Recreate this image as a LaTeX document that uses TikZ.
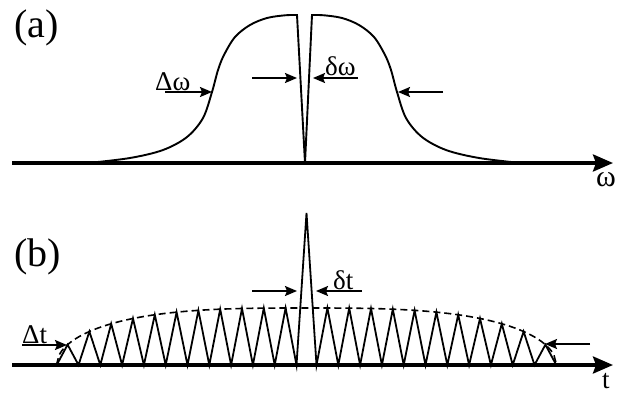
\documentclass[tikz,border=0pt]{standalone}
\usepackage{fontspec}
\setmainfont{Liberation Serif}
\usetikzlibrary{arrows.meta}
\begin{document}
\begin{tikzpicture}[x=1pt,y=-1pt,
 axis/.style={line width=3.5pt,-{Stealth[length=20pt,width=17pt,inset=3pt]}},
 marker/.style={line width=1.8pt,-{Stealth[length=12pt,width=10pt,inset=2pt]}},
 curve/.style={line width=1.9pt,line join=miter},
 teeth/.style={line width=1.8pt,line join=miter},
 envel/.style={line width=1.6pt,dash pattern=on 7pt off 4pt},
 big/.style={font=\fontsize{40}{44}\selectfont,inner sep=0pt,anchor=base west},
 lab/.style={font=\fontsize{27}{29}\selectfont,inner sep=0pt,anchor=base west},
 axlab/.style={font=\fontsize{27}{29}\selectfont,inner sep=0pt},
]
\useasboundingbox (0,0) rectangle (618,394);
\def\zc{306.5}
\def\zs{21.8}
% ---------- panel (a) ----------
\node[big] (la) at (14,37) {(a)};
\coordinate (axA0) at (12,163);
\coordinate (axA1) at (613,163);
\draw[axis] (axA0) -- (axA1);
\node[axlab,anchor=base east,font=\fontsize{30}{32}\selectfont] (lw) at (616,186) {ω};
\draw[curve] plot[smooth,tension=0.55] coordinates {(88,163) (130,158) (163,150) (187,137) (203,118) (212,92) (218,70) (224,55) (235,37) (250,25) (267,18) (285,15.3) (297,15)}
  -- (305,163) -- (312,15)
  -- plot[smooth,tension=0.55] coordinates {(312,15) (324,15.3) (342,18) (359,25) (374,37) (385,55) (391,70) (397,92) (406,118) (422,137) (446,150) (479,158) (521,163)};
\coordinate (DwLa) at (165,92); \coordinate (DwLb) at (212,92);
\coordinate (DwRa) at (443,92); \coordinate (DwRb) at (398,92);
\coordinate (dwLa) at (252,78); \coordinate (dwLb) at (297,78);
\coordinate (dwRa) at (358,78); \coordinate (dwRb) at (313,78);
\draw[marker] (DwLa) -- (DwLb);
\draw[marker] (DwRa) -- (DwRb);
\draw[marker] (dwLa) -- (dwLb);
\draw[marker] (dwRa) -- (dwRb);
\node[lab] (lDw) at (155,90) {Δω};
\node[lab] (ldw) at (325,75) {δω};
% ---------- panel (b) ----------
\node[big] (lb) at (14,266) {(b)};
\coordinate (axB0) at (12,365);
\coordinate (axB1) at (613,365);
\draw[envel] plot[domain=-250:250,samples=201] ({\zc+\x},{365-57*sqrt(max(0,1-abs(\x/250)^3))});
\draw[teeth] ({\zc-249.8},365)
  \foreach \k in {10,9,...,0}{
    -- ({\zc-(10+\zs*(\k+0.5))},{365-57*sqrt(1-((10+\zs*(\k+0.5))/250)^3)})
    -- ({\zc-(10+\zs*\k)},365) }
  -- (\zc,213) -- ({\zc+10},365)
  \foreach \k in {0,...,10}{
    -- ({\zc+(10+\zs*(\k+0.5))},{365-57*sqrt(1-((10+\zs*(\k+0.5))/250)^3)})
    -- ({\zc+(10+\zs*(\k+1))},365) };
\draw[axis] (axB0) -- (axB1);
\node[axlab,anchor=base west] (lt) at (602,388) {t};
\coordinate (DtLa) at (22,345); \coordinate (DtLb) at (67,345);
\coordinate (DtRa) at (590,344); \coordinate (DtRb) at (545,344);
\coordinate (dtLa) at (252,291); \coordinate (dtLb) at (297,291);
\coordinate (dtRa) at (362,291); \coordinate (dtRb) at (316,291);
\draw[marker] (DtLa) -- (DtLb);
\draw[marker] (DtRa) -- (DtRb);
\draw[marker] (dtLa) -- (dtLb);
\draw[marker] (dtRa) -- (dtRb);
\node[lab] (lDt) at (22,343) {Δt};
\node[lab] (ldt) at (333,289) {δt};
\end{tikzpicture}
\end{document}
